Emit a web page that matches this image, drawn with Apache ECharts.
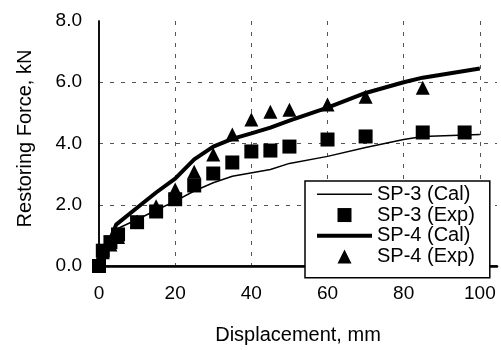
<!DOCTYPE html>
<html>
<head>
<meta charset="utf-8">
<script src="https://cdn.jsdelivr.net/npm/echarts@6/dist/echarts.min.js"></script>
<style>
  html, body { margin: 0; padding: 0; background: #fff; }
  #chart { width: 501px; height: 350px; }
</style>
</head>
<body>
<div id="chart"></div>
<script>
// displacement (mm) / restoring force (kN)
const sp3CalDisp = [0, 4.5, 10, 15, 20, 25, 30, 35, 45, 50, 60, 70, 80, 85, 100];
const sp3CalForce = [0, 1.2, 1.52, 1.82, 2.12, 2.45, 2.72, 2.93, 3.15, 3.35, 3.58, 3.87, 4.13, 4.23, 4.29];

const sp3ExpDisp = [0, 1, 3, 5, 10, 15, 20, 25, 30, 35, 40, 45, 50, 60, 70, 85, 96];
const sp3ExpForce = [0, 0.5, 0.78, 1.03, 1.43, 1.78, 2.18, 2.63, 3.02, 3.38, 3.74, 3.77, 3.9, 4.13, 4.23, 4.36, 4.36];

const sp4CalDisp = [0, 4.5, 10, 15, 20, 25, 30, 35, 40, 45, 50, 60, 70, 80, 85, 100];
const sp4CalForce = [0, 1.35, 1.9, 2.4, 2.85, 3.48, 3.9, 4.15, 4.33, 4.52, 4.75, 5.17, 5.65, 6.0, 6.15, 6.45];

const sp4ExpDisp = [0, 1, 3, 5, 10, 15, 20, 25, 30, 35, 40, 45, 50, 60, 70, 85];
const sp4ExpForce = [0, 0.45, 0.7, 0.95, 1.45, 1.95, 2.5, 3.08, 3.64, 4.29, 4.78, 5.04, 5.1, 5.27, 5.53, 5.82];

const seriesNames = ['SP-3 (Cal)', 'SP-3 (Exp)', 'SP-4 (Cal)', 'SP-4 (Exp)'];

const pairs = (xs, ys) => xs.map((x, i) => [x, ys[i]]);
const font = 'Arial, "Liberation Sans", sans-serif';

const chart = echarts.init(document.getElementById('chart'), null, { renderer: 'canvas' });

const dashed = { color: '#555', width: 1, type: [4, 7] };

// legend icons as paths so they keep their proportions
const legendIcons = [
  'path://M0,0H55V1.5H0Z',
  'path://M0,0H14V14H0Z',
  'path://M0,0H55V4H0Z',
  'path://M7,0L14,14H0Z'
];

chart.setOption({
  backgroundColor: '#fff',
  animation: false,
  textStyle: { fontFamily: font, color: '#000' },
  grid: { left: 99, right: 4, top: 21, bottom: 83, containLabel: false },
  legend: {
    data: seriesNames.map((name, i) => ({ name, icon: legendIcons[i], itemStyle: { color: '#000', borderWidth: 0 } })),
    orient: 'vertical',
    left: 305,
    top: 181,
    padding: [3, 15, 11, 12],
    itemWidth: 55,
    itemHeight: 14,
    itemGap: 0,
    symbolKeepAspect: true,
    backgroundColor: '#fff',
    borderColor: '#000',
    borderWidth: 1.5,
    borderRadius: 0,
    z: 10,
    textStyle: { fontFamily: font, fontSize: 20, color: '#000', lineHeight: 20.7 }
  },
  xAxis: [{
    type: 'value',
    min: 0,
    max: 104.5,
    interval: 20,
    name: 'Displacement, mm',
    nameLocation: 'middle',
    nameGap: 59,
    nameTextStyle: { fontFamily: font, fontSize: 20, color: '#000' },
    axisLine: { show: true, onZero: false, lineStyle: { color: '#000', width: 2.5 } },
    axisTick: { show: false },
    axisLabel: { fontFamily: font, fontSize: 19, color: '#000', margin: 18, showMaxLabel: false },
    splitLine: { show: true, showMinLine: false, showMaxLine: false, lineStyle: dashed }
  }, {
    type: 'value',
    position: 'top',
    min: 0,
    max: 104.5,
    axisLine: { show: true, lineStyle: { color: '#000', width: 1.5 } },
    axisTick: { show: false },
    axisLabel: { show: false },
    splitLine: { show: false }
  }],
  yAxis: [{
    type: 'value',
    min: 0,
    max: 8,
    interval: 2,
    name: 'Restoring Force, kN',
    nameLocation: 'middle',
    nameGap: 64,
    nameTextStyle: { fontFamily: font, fontSize: 20, color: '#000', padding: [0, 0, 0, 10] },
    axisLine: { show: true, onZero: false, lineStyle: { color: '#000', width: 1.5 } },
    axisTick: { show: false },
    axisLabel: { fontFamily: font, fontSize: 19, color: '#000', margin: 17, formatter: v => v.toFixed(1) },
    splitLine: { show: true, showMinLine: false, showMaxLine: false, lineStyle: dashed }
  }, {
    type: 'value',
    position: 'right',
    min: 0,
    max: 8,
    axisLine: { show: true, lineStyle: { color: '#000', width: 1.5 } },
    axisTick: { show: false },
    axisLabel: { show: false },
    splitLine: { show: false }
  }],
  series: [
    {
      name: seriesNames[0],
      type: 'line',
      data: pairs(sp3CalDisp, sp3CalForce),
      symbol: 'none',
      lineStyle: { color: '#000', width: 1.5 },
      itemStyle: { color: '#000' },
      z: 3
    },
    {
      name: seriesNames[1],
      type: 'scatter',
      data: pairs(sp3ExpDisp, sp3ExpForce),
      symbol: 'rect',
      symbolSize: 14,
      itemStyle: { color: '#000', opacity: 1 },
      z: 4
    },
    {
      name: seriesNames[2],
      type: 'line',
      data: pairs(sp4CalDisp, sp4CalForce),
      symbol: 'none',
      lineStyle: { color: '#000', width: 4 },
      itemStyle: { color: '#000' },
      z: 3
    },
    {
      name: seriesNames[3],
      type: 'scatter',
      data: pairs(sp4ExpDisp, sp4ExpForce),
      symbol: 'triangle',
      symbolSize: 14,
      itemStyle: { color: '#000', opacity: 1 },
      z: 4
    }
  ]
});
</script>
</body>
</html>
